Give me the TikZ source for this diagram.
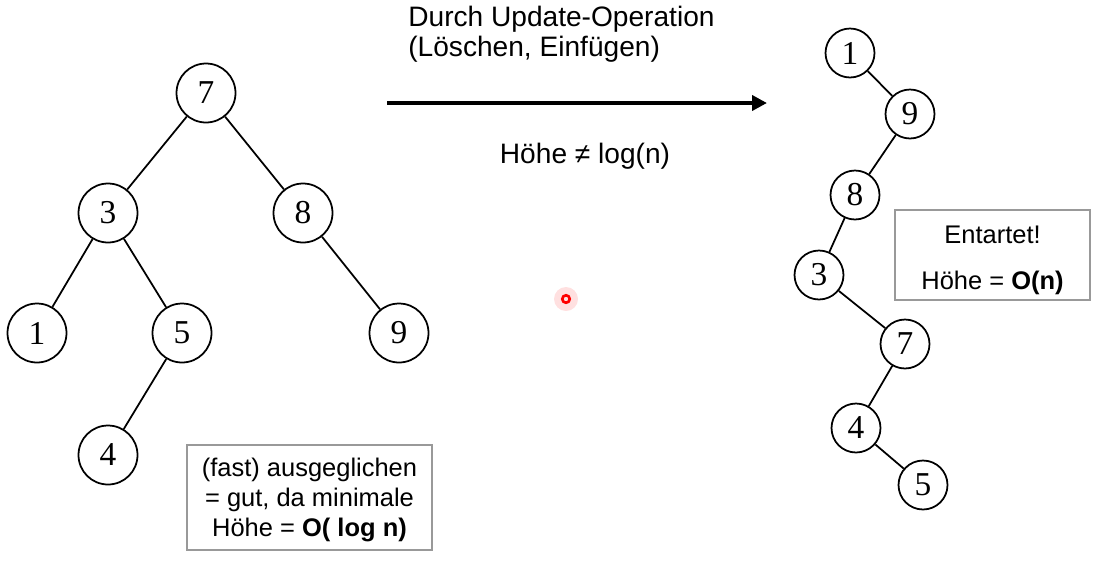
\documentclass[tikz,border=0pt]{standalone}
\usepackage{fontspec}
\setmainfont{Liberation Sans}
\newfontfamily\ziffern{Liberation Serif}
\usetikzlibrary{arrows.meta}
\tikzset{
  knotenL/.style={circle,draw,line width=1pt,minimum size=1.18cm,inner sep=0pt,font=\ziffern\fontsize{19}{19}\selectfont},
  knotenR/.style={knotenL,minimum size=0.98cm},
  kante/.style={line width=1pt},
  kasten/.style={draw=gray!80,line width=0.8pt,align=center,inner sep=0pt},
  txt/.style={font=\fontsize{16}{17}\selectfont},
  boxtxt/.style={font=\fontsize{14.5}{17}\selectfont}
}
\begin{document}
\begin{tikzpicture}[x=0.02cm,y=-0.02cm]
\useasboundingbox (0,0) rectangle (1101,562);
% ausgeglichener Baum
\node[knotenL](l7)at(206,93){7};
\node[knotenL](l3)at(108,213){3};
\node[knotenL](l8)at(303,213){8};
\node[knotenL](l1)at(37,333){1};
\node[knotenL](l5)at(182,333){5};
\node[knotenL](l9)at(399,333){9};
\node[knotenL](l4)at(108,455){4};
\draw[kante](l7)--(l3) (l7)--(l8) (l3)--(l1) (l3)--(l5) (l8)--(l9) (l5)--(l4);
\node[kasten,boxtxt,minimum width=4.9cm,minimum height=2.1cm](infoL)at(309.5,497.5){\rule{0pt}{13pt}(fast) ausgeglichen\\= gut, da minimale\\Höhe = \textbf{O( log n)}};
% Pfeil
\coordinate(pfeilA)at(387,103);
\coordinate(pfeilB)at(767,103);
\draw[line width=2.4pt,-{Triangle[length=8.5pt,width=8.5pt]}](pfeilA)--(pfeilB);
\node[txt,align=left,anchor=north west,inner sep=0pt](oben)at(408,6){Durch Update-Operation\\(Löschen, Einfügen)};
\node[txt,anchor=base,inner sep=0pt](unten)at(585,163){Höhe ≠ log(n)};
% Zeiger
\fill[red!12](566,299)circle[radius=0.24cm];
\draw[red,line width=1.5pt](566,299)circle[radius=0.075cm];
% entarteter Baum
\node[knotenR](r1)at(850,53){1};
\node[knotenR](r9)at(910,114){9};
\node[knotenR](r8)at(855,195){8};
\node[knotenR](r3)at(819,275){3};
\node[knotenR](r7)at(905,344){7};
\node[knotenR](r4)at(856,428){4};
\node[knotenR](r5)at(923,485){5};
\draw[kante](r1)--(r9) (r9)--(r8) (r8)--(r3) (r3)--(r7) (r7)--(r4) (r4)--(r5);
\node[kasten,font=\fontsize{14.5}{26}\selectfont,minimum width=3.9cm,minimum height=1.8cm](infoR)at(992.5,255){\rule{0pt}{16pt}Entartet!\\Höhe = \textbf{O(n)}};
\end{tikzpicture}
\end{document}
